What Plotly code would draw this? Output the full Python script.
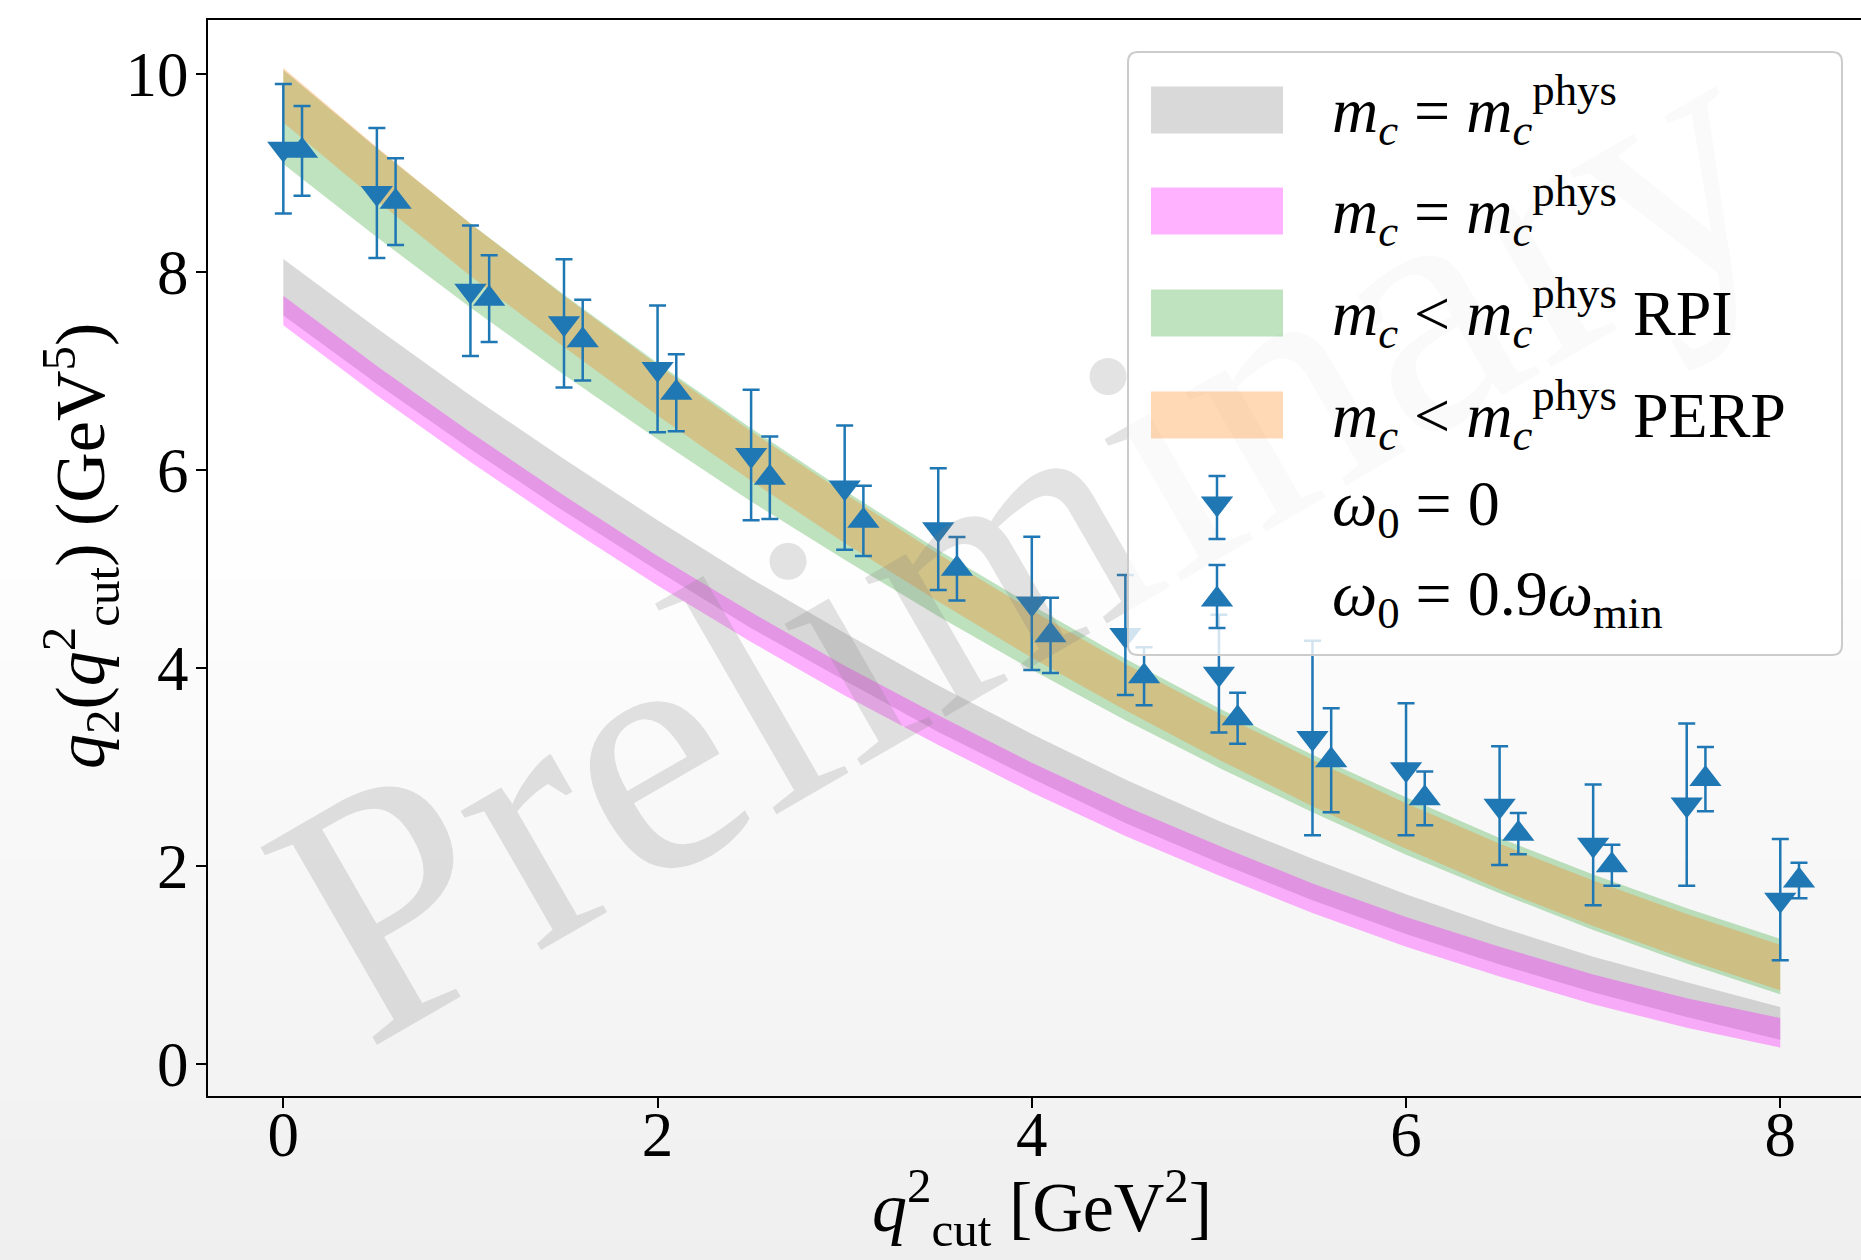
import plotly.graph_objects as go

# ------------------------------------------------------------------ data
q2cut = [0, 0.5, 1, 1.5, 2, 2.5, 3, 3.5, 4, 4.5, 5, 5.5, 6, 6.5, 7, 7.5, 8]

# m_c = m_c^phys (grey band)
phys_a_lo = [7.56, 6.87, 6.21, 5.58, 4.98, 4.40, 3.87, 3.35, 2.88, 2.43, 2.03, 1.65, 1.31, 1.00, 0.72, 0.47, 0.24]
phys_a_hi = [8.13, 7.43, 6.75, 6.11, 5.49, 4.90, 4.35, 3.82, 3.33, 2.87, 2.45, 2.07, 1.71, 1.38, 1.08, 0.82, 0.57]
# m_c = m_c^phys (magenta band)
phys_b_lo = [7.46, 6.75, 6.08, 5.44, 4.83, 4.26, 3.72, 3.22, 2.74, 2.30, 1.90, 1.52, 1.18, 0.88, 0.60, 0.36, 0.16]
phys_b_hi = [7.76, 7.05, 6.38, 5.74, 5.13, 4.56, 4.02, 3.52, 3.04, 2.60, 2.20, 1.82, 1.48, 1.18, 0.90, 0.66, 0.46]
# m_c < m_c^phys RPI (green band)
rpi_lo = [9.09, 8.35, 7.64, 6.96, 6.31, 5.68, 5.09, 4.52, 3.98, 3.47, 2.99, 2.54, 2.11, 1.72, 1.35, 1.01, 0.70]
rpi_hi = [10.04, 9.25, 8.49, 7.77, 7.08, 6.42, 5.79, 5.19, 4.63, 4.09, 3.59, 3.12, 2.69, 2.28, 1.91, 1.57, 1.26]
# m_c < m_c^phys PERP (orange band)
perp_lo = [9.51, 8.72, 7.96, 7.24, 6.55, 5.89, 5.26, 4.67, 4.10, 3.57, 3.07, 2.60, 2.17, 1.76, 1.39, 1.05, 0.74]
perp_hi = [10.06, 9.26, 8.49, 7.76, 7.06, 6.39, 5.76, 5.15, 4.58, 4.04, 3.54, 3.07, 2.63, 2.22, 1.85, 1.51, 1.20]

# lattice points, omega_0 = 0
w0_x = [0, 0.5, 1, 1.5, 2, 2.5, 3, 3.5, 4, 4.5, 5, 5.5, 6, 6.5, 7, 7.5, 8]
w0_y = [9.245, 8.797, 7.81, 7.48, 7.02, 6.15, 5.82, 5.40, 4.65, 4.33, 3.94, 3.29, 2.973, 2.606, 2.21, 2.617, 1.656]
w0_err = [0.655, 0.657, 0.66, 0.647, 0.64, 0.66, 0.627, 0.615, 0.674, 0.607, 0.595, 0.982, 0.667, 0.60, 0.61, 0.82, 0.613]
# lattice points, omega_0 = 0.9 omega_min
w09_x = [0.1, 0.6, 1.1, 1.6, 2.1, 2.6, 3.1, 3.6, 4.1, 4.6, 5.1, 5.6, 6.1, 6.6, 7.1, 7.6, 8.1]
w09_y = [9.224, 8.71, 7.73, 7.31, 6.78, 5.92, 5.485, 5.0, 4.327, 3.913, 3.49, 3.065, 2.68, 2.323, 2.004, 2.874, 1.85]
w09_err = [0.454, 0.439, 0.439, 0.408, 0.389, 0.417, 0.355, 0.322, 0.381, 0.293, 0.258, 0.526, 0.272, 0.209, 0.207, 0.325, 0.18]

x_ticks = [0, 2, 4, 6, 8]
y_ticks = [0, 2, 4, 6, 8, 10]

band_labels = [
    "<i>m</i><sub><i>c</i></sub> = <i>m</i><sub><i>c</i></sub><sup>phys</sup>",
    "<i>m</i><sub><i>c</i></sub> = <i>m</i><sub><i>c</i></sub><sup>phys</sup>",
    "<i>m</i><sub><i>c</i></sub> &lt; <i>m</i><sub><i>c</i></sub><sup>phys</sup> RPI",
    "<i>m</i><sub><i>c</i></sub> &lt; <i>m</i><sub><i>c</i></sub><sup>phys</sup> PERP",
]
point_labels = [
    "<i>ω</i><sub>0</sub> = 0",
    "<i>ω</i><sub>0</sub> = 0.9<i>ω</i><sub>min</sub>",
]
x_title = "<i>q</i><sup>2</sup><sub>cut</sub> [GeV<sup>2</sup>]"
y_title = "<i>q</i><sub>2</sub>(<i>q</i><sup>2</sup><sub>cut</sub>) (GeV<sup>5</sup>)"
watermark = "Preliminary"

# ------------------------------------------------------------------ style
FONT = "Liberation Serif"
BLUE = "#1f77b4"
band_colors = ["rgba(128,128,128,0.3)", "rgba(255,0,255,0.3)",
               "rgba(44,160,44,0.3)", "rgba(255,127,14,0.3)"]

W, H = 1861, 1260
ML, MT, MR, MB = 208, 20, 0, 164
PW, PH = W - ML - MR, H - MT - MB


def px(X):
    return (X - ML) / PW


def py(Y):
    return (H - MB - Y) / PH


fig = go.Figure()

bands = [(phys_a_lo, phys_a_hi), (phys_b_lo, phys_b_hi), (rpi_lo, rpi_hi), (perp_lo, perp_hi)]
for (lo, hi), col in zip(bands, band_colors):
    fig.add_trace(go.Scatter(
        x=q2cut + q2cut[::-1], y=lo + hi[::-1], mode="lines", fill="toself",
        fillcolor=col, line=dict(width=0), hoverinfo="skip", showlegend=False))

fig.add_trace(go.Scatter(
    x=w0_x, y=w0_y, mode="markers",
    marker=dict(symbol="triangle-down", size=28, color=BLUE, line=dict(width=0)),
    error_y=dict(type="data", array=w0_err, color=BLUE, thickness=2.5, width=8.5),
    showlegend=False))
fig.add_trace(go.Scatter(
    x=w09_x, y=w09_y, mode="markers",
    marker=dict(symbol="triangle-up", size=28, color=BLUE, line=dict(width=0)),
    error_y=dict(type="data", array=w09_err, color=BLUE, thickness=2.5, width=8.5),
    showlegend=False))

shapes = []
# subtle vertical background gradient
step = 20
for Y0 in range(500, 1260, step):
    mid = Y0 + step / 2
    g = round(255 - 16 * (mid - 500) / 760)
    shapes.append(dict(type="rect", xref="paper", yref="paper", layer="below",
                       x0=px(0), x1=px(W), y0=py(Y0 + step + 1), y1=py(Y0),
                       line=dict(width=0), fillcolor=f"rgb({g},{g},{g})"))

# watermark (drawn above data, below legend)
shapes.append(dict(type="rect", xref="paper", yref="paper", layer="above",
                   x0=px(994), x1=px(1014), y0=py(513), y1=py(493),
                   line=dict(width=0), fillcolor="rgba(0,0,0,0)",
                   label=dict(text=watermark, textposition="middle center", textangle=-30,
                              font=dict(family=FONT, size=350, color="rgba(128,128,128,0.22)"))))

# legend frame (rounded)
L, T, R, B, r = 1128, 52, 1842, 655, 10
pts = lambda X, Y: f"{px(X):.6f},{py(Y):.6f}"
path = (f"M{pts(L + r, T)} L{pts(R - r, T)} Q{pts(R, T)} {pts(R, T + r)} "
        f"L{pts(R, B - r)} Q{pts(R, B)} {pts(R - r, B)} L{pts(L + r, B)} "
        f"Q{pts(L, B)} {pts(L, B - r)} L{pts(L, T + r)} Q{pts(L, T)} {pts(L + r, T)} Z")
shapes.append(dict(type="path", xref="paper", yref="paper", layer="above", path=path,
                   fillcolor="rgba(255,255,255,0.8)", line=dict(color="rgb(204,204,204)", width=2)))

band_rows = [110, 211, 313, 415]
for Yc, col in zip(band_rows, band_colors):
    shapes.append(dict(type="rect", xref="paper", yref="paper", layer="above",
                       x0=px(1151), x1=px(1283), y0=py(Yc + 23.5), y1=py(Yc - 23.5),
                       line=dict(width=0), fillcolor=col))

# legend markers with error bars
mx = 1217
for Yc, e0, e1, down in [(507, 476, 539, True), (596, 565, 628, False)]:
    shapes.append(dict(type="line", xref="paper", yref="paper", layer="above",
                       x0=px(mx), x1=px(mx), y0=py(e0), y1=py(e1), line=dict(color=BLUE, width=2.5)))
    for ee in (e0, e1):
        shapes.append(dict(type="line", xref="paper", yref="paper", layer="above",
                           x0=px(mx - 8.5), x1=px(mx + 8.5), y0=py(ee), y1=py(ee),
                           line=dict(color=BLUE, width=2.5)))
    hw, hh = 16.2, 10.5
    if down:
        tri = f"M{pts(mx - hw, Yc - hh)} L{pts(mx + hw, Yc - hh)} L{pts(mx, Yc + hh)} Z"
    else:
        tri = f"M{pts(mx - hw, Yc + hh)} L{pts(mx + hw, Yc + hh)} L{pts(mx, Yc - hh)} Z"
    shapes.append(dict(type="path", xref="paper", yref="paper", layer="above", path=tri,
                       fillcolor=BLUE, line=dict(width=0)))

annotations = []
for Yc, txt in zip(band_rows + [508, 598], band_labels + point_labels):
    annotations.append(dict(xref="paper", yref="paper", x=px(1330), y=py(Yc),
                            xanchor="left", yanchor="middle", text=txt, showarrow=False,
                            font=dict(family=FONT, size=64, color="black")))

annotations.append(dict(xref="paper", yref="paper", x=px(1042), y=py(1208),
                        xanchor="center", yanchor="middle", text=x_title, showarrow=False,
                        font=dict(family=FONT, size=70, color="black")))
annotations.append(dict(xref="paper", yref="paper", x=px(80), y=py(546),
                        xanchor="center", yanchor="middle", text=y_title, showarrow=False,
                        textangle=-90, font=dict(family=FONT, size=70, color="black")))

axis_common = dict(showgrid=False, zeroline=False, ticks="outside", ticklen=10, tickwidth=2,
                   tickcolor="black", showline=True, linewidth=2, linecolor="black",
                   tickfont=dict(family=FONT, size=63, color="black"))

fig.update_layout(
    width=W, height=H,
    margin=dict(l=ML, r=MR, t=MT, b=MB, pad=0),
    paper_bgcolor="white", plot_bgcolor="rgba(0,0,0,0)",
    font=dict(family=FONT, color="black"),
    xaxis=dict(range=[-0.4025, 8.4314], tickvals=x_ticks, ticktext=[str(v) for v in x_ticks],
               mirror=True, ticklabelstandoff=-28, **axis_common),
    yaxis=dict(range=[-0.3285, 10.546], tickvals=y_ticks, ticktext=[str(v) for v in y_ticks],
               mirror=False, ticklabelstandoff=-5, **axis_common),
    shapes=shapes, annotations=annotations, showlegend=False,
)

fig.write_html("out.html", config={"displayModeBar": False},
               post_script="document.body.style.margin='0';")
